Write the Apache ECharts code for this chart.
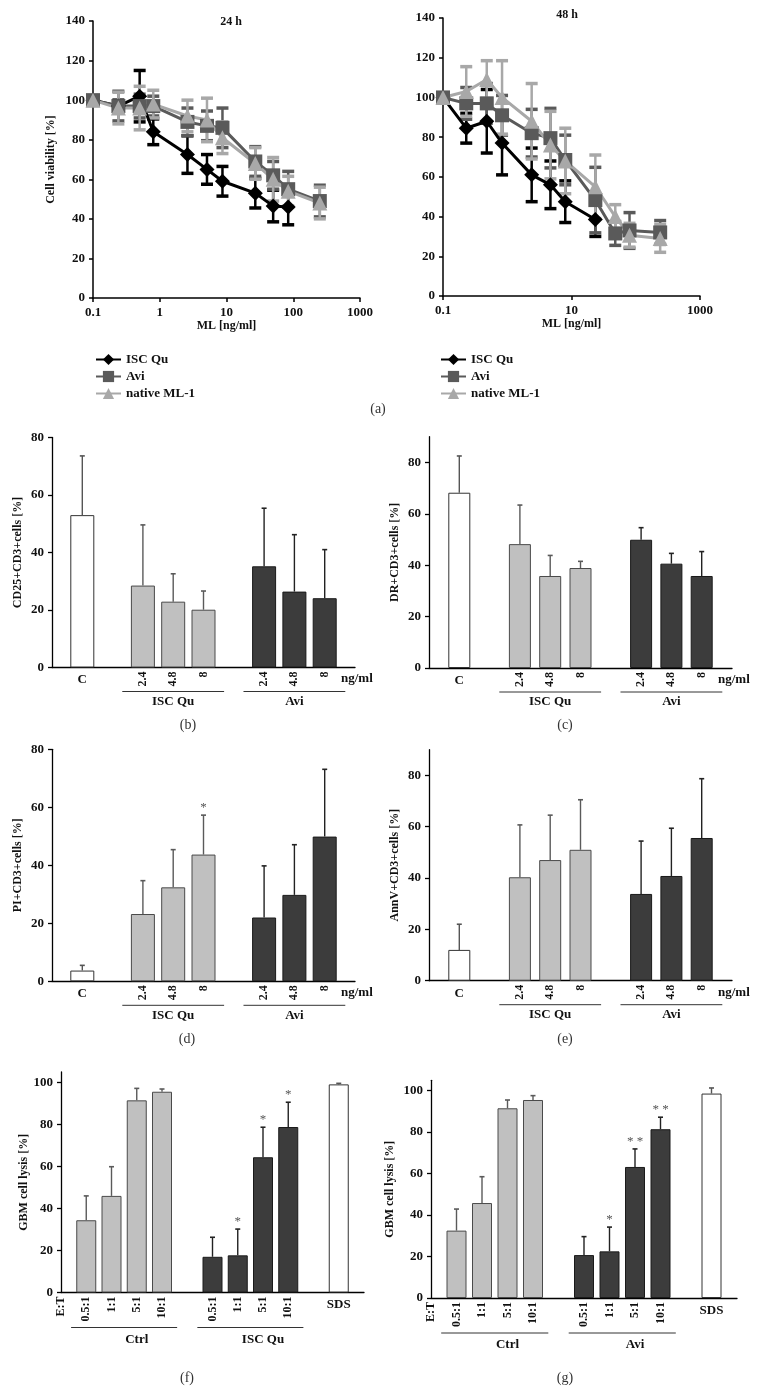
<!DOCTYPE html>
<html><head><meta charset="utf-8">
<script src="https://cdn.jsdelivr.net/npm/echarts@6/dist/echarts.min.js"></script>
<style>html,body{margin:0;padding:0;background:#fff}#c{width:757px;height:1393px}</style>
</head><body><div id="c"></div>
<script>
// ================= DATA =================
const lineNames = ['ISC Qu', 'Avi', 'native ML-1'];
// panel (a) 24 h
const x24Isc = [0.1, 0.24, 0.5, 0.8, 2.6, 5.1, 8.7, 27, 50, 84];
const v24Isc = [100, 97, 102, 84, 72.5, 65, 59, 53, 46.5, 46];
const e24Isc = [0, 3, 13, 6.5, 9.5, 7.5, 7.5, 7.5, 8, 9];
const x24Avi = [0.1, 0.24, 0.5, 0.8, 2.6, 5.1, 8.7, 27, 50, 84, 250];
const v24Avi = [100, 97, 97, 97, 89, 87, 86, 69, 62, 55, 49];
const e24Avi = [0, 7.5, 6, 5, 7, 7.5, 10, 7.5, 7, 9, 8];
const x24Nat = [0.1, 0.24, 0.5, 0.8, 2.6, 5.1, 8.7, 27, 50, 84, 250];
const v24Nat = [100, 96, 96, 98, 92, 90, 81, 68, 60, 54, 48];
const e24Nat = [0, 8, 11, 7, 8, 11, 8, 8, 11, 7.5, 8];
// panel (a) 48 h
const x48Isc = [0.1, 0.23, 0.48, 0.83, 2.4, 4.7, 8, 23.5];
const v48Isc = [100, 84.5, 88, 77, 61, 56, 47.5, 38.5];
const e48Isc = [0, 7.5, 16, 16, 13.5, 12, 10.5, 8.5];
const x48Avi = [0.1, 0.23, 0.48, 0.83, 2.4, 4.7, 8, 23.5, 48, 80, 240];
const v48Avi = [100, 97, 97, 91, 82, 79.5, 68.5, 48.3, 31.5, 33, 32];
const e48Avi = [0, 8, 10, 10, 12, 15, 12.5, 16.5, 6, 9, 6];
const x48Nat = [0.1, 0.23, 0.48, 0.83, 2.4, 4.7, 8, 23.5, 48, 80, 240];
const v48Nat = [100, 103, 109, 100, 88, 76, 68, 55, 40, 30.6, 29];
const e48Nat = [0, 12.5, 9.5, 18.5, 19, 17, 16.5, 16, 6, 6, 7];
const ticks48 = [0.1, 10, 1000];

// panels (b)-(e): slots on the category axis
const bcdeLabels = ['', 'C', '', '2.4', '4.8', '8', '', '2.4', '4.8', '8', ''];
const bcdeKinds  = [null, 'white', null, 'light', 'light', 'light', null, 'dark', 'dark', 'dark', null];
const bcdeGroups = [{name: 'ISC Qu', from: 3, to: 5}, {name: 'Avi', from: 7, to: 9}];
const bMean = [53, 28.5, 22.9, 20.1, 35.2, 26.4, 24.1];
const bSd   = [20.6, 21.1, 9.7, 6.5, 20.2, 19.8, 16.9];
const cMean = [68.2, 48.2, 35.8, 38.9, 49.9, 40.6, 35.8];
const cSd   = [14.3, 15.2, 8.0, 2.6, 4.7, 4.0, 9.5];
const dMean = [3.7, 23.2, 32.4, 43.7, 22, 29.8, 49.9];
const dSd   = [1.8, 11.5, 13, 13.6, 17.8, 17.3, 23.2];
const dStars = ['', '', '', '*', '', '', ''];
const eMean = [12, 40.3, 47, 51, 33.8, 40.8, 55.6];
const eSd   = [10, 20.4, 17.5, 19.5, 20.6, 18.6, 23.1];
// panels (f),(g)
const fgLabels = ['E:T', '0.5:1', '1:1', '5:1', '10:1', '', '0.5:1', '1:1', '5:1', '10:1', '', 'SDS', ''];
const fgKinds  = [null, 'light', 'light', 'light', 'light', null, 'dark', 'dark', 'dark', 'dark', null, 'white', null];
const fMean = [34.4, 46, 91.5, 95.6, 17, 17.7, 64.4, 78.8, 99.1];
const fSd   = [11.6, 13.9, 5.7, 1.3, 9.3, 12.5, 14.3, 11.8, 0.5];
const fStars = ['', '', '', '', '', '*', '*', '*', ''];
const fGroups = [{name: 'Ctrl', from: 1, to: 4}, {name: 'ISC Qu', from: 6, to: 9}];
const gMean = [32.5, 45.8, 91.5, 95.5, 20.7, 22.5, 63.2, 81.4, 98.6];
const gSd   = [10.4, 12.7, 4, 2.1, 8.9, 11.7, 8.7, 5.8, 2.7];
const gStars = ['', '', '', '', '', '*', '* *', '* *', ''];
const gGroups = [{name: 'Ctrl', from: 1, to: 4}, {name: 'Avi', from: 6, to: 9}];
const flatLabels = ['C', 'SDS'];

// ================= STYLE / BUILD =================
const FONT = "'Liberation Serif','DejaVu Serif',serif";
function lab(size, weight) { return {fontFamily: FONT, fontSize: size, fontWeight: weight || 'bold', color: '#111'}; }
const option = {animation: false, legend: [], grid: [], xAxis: [], yAxis: [], series: [], graphic: []};
const barPanels = [];

function lineErr(xi, yi, xs, vs, es, color) {
  return {
    type: 'custom', xAxisIndex: xi, yAxisIndex: yi, z: 2,
    data: xs.map((x, i) => [x, vs[i], es[i]]),
    encode: {x: 0, y: 1},
    renderItem: (params, api) => {
      const x = api.value(0), y = api.value(1), s = api.value(2);
      if (!s) return null;
      const t = api.coord([x, y + s]), b = api.coord([x, y - s]);
      const w = 6;
      return {type: 'group', children: [
        {type: 'line', shape: {x1: t[0], y1: t[1], x2: b[0], y2: b[1]}, style: {stroke: color, lineWidth: 2.5}},
        {type: 'line', shape: {x1: t[0] - w, y1: t[1], x2: t[0] + w, y2: t[1]}, style: {stroke: color, lineWidth: 3.5}},
        {type: 'line', shape: {x1: b[0] - w, y1: b[1], x2: b[0] + w, y2: b[1]}, style: {stroke: color, lineWidth: 3.5}}
      ]};
    }
  };
}

function linePanel(cfg) {
  const gi = option.grid.length;
  option.grid.push({left: cfg.left, top: cfg.top, width: cfg.width, height: cfg.height});
  const xa = {gridIndex: gi, type: 'log', logBase: 10, min: 0.1, max: 1000,
    name: 'ML [ng/ml]', nameLocation: 'middle', nameGap: 14, nameTextStyle: lab(12),
    axisLine: {lineStyle: {color: '#000', width: 1.5}},
    axisTick: {length: 4, lineStyle: {color: '#000', width: 1.5}},
    axisLabel: Object.assign(lab(13), {formatter: v => String(+Number(v).toPrecision(3))}),
    splitLine: {show: false}, minorTick: {show: false}};
  if (cfg.ticks) { xa.axisTick.customValues = cfg.ticks; xa.axisLabel.customValues = cfg.ticks; }
  option.xAxis.push(xa);
  option.yAxis.push({gridIndex: gi, type: 'value', min: 0, max: 140, interval: 20,
    name: cfg.yName || '', nameLocation: 'middle', nameGap: 36, nameTextStyle: lab(12),
    axisLine: {show: true, lineStyle: {color: '#000', width: 1.5}},
    axisTick: {show: true, length: 4, lineStyle: {color: '#000', width: 1.5}},
    axisLabel: lab(13), splitLine: {show: false}});
  const xi = option.xAxis.length - 1, yi = option.yAxis.length - 1;
  cfg.sets.forEach(s => {
    option.series.push(lineErr(xi, yi, s.x, s.v, s.e, s.color));
    option.series.push({type: 'line', name: s.name, xAxisIndex: xi, yAxisIndex: yi, z: 3,
      data: s.x.map((x, i) => [x, s.v[i]]), symbol: s.symbol, symbolSize: s.size,
      lineStyle: {color: s.color, width: 3}, itemStyle: {color: s.color}});
  });
  option.legend.push({left: cfg.legendLeft, top: 353, orient: 'vertical', padding: 0, itemGap: 4,
    itemWidth: 25, itemHeight: 14, textStyle: lab(13), data: lineNames});
}

const fills = {white: '#ffffff', light: '#c0c0c0', dark: '#3c3c3c'};
const borders = {white: '#333', light: '#4a4a4a', dark: '#1a1a1a'};
const errCol = {white: '#555', light: '#5a5a5a', dark: '#222'};

function barPanel(p) {
  const gi = option.grid.length;
  option.grid.push({left: p.left, top: p.top, width: p.width, height: p.height});
  const keys = p.labels.map((l, i) => 's' + i);
  const xi = option.xAxis.length;
  option.xAxis.push({gridIndex: gi, type: 'category', data: keys, boundaryGap: false, position: 'bottom',
    axisLine: {lineStyle: {color: '#000', width: 1.3}}, axisTick: {show: false},
    axisLabel: Object.assign(lab(12), {interval: 0, rotate: 90, margin: 4,
      formatter: (v, i) => flatLabels.includes(p.labels[i]) ? '' : p.labels[i]}),
    name: p.unit || '', nameLocation: 'end', nameGap: -14,
    nameTextStyle: Object.assign(lab(13), {verticalAlign: 'top', padding: [5, 0, 0, 0]})});
  option.xAxis.push({gridIndex: gi, type: 'category', data: keys, boundaryGap: false, position: 'bottom',
    axisLine: {show: false}, axisTick: {show: false},
    axisLabel: Object.assign(lab(13), {interval: 0, margin: 6,
      formatter: (v, i) => flatLabels.includes(p.labels[i]) ? p.labels[i] : ''})});
  const yi = option.yAxis.length;
  option.yAxis.push({gridIndex: gi, type: 'value', min: 0, max: p.max, interval: 20,
    name: p.yName, nameLocation: 'middle', nameGap: p.nameGap, nameTextStyle: lab(12),
    axisLine: {show: true, lineStyle: {color: '#000', width: 1.3}},
    axisTick: {show: true, length: 4, lineStyle: {color: '#000', width: 1.3}, customValues: p.ticks},
    axisLabel: Object.assign(lab(13), {customValues: p.ticks}), splitLine: {show: false}});
  const slots = p.kinds.map((k, i) => k ? i : -1).filter(i => i >= 0);
  const data = p.labels.map(() => '-');
  slots.forEach((si, j) => {
    const k = p.kinds[si];
    data[si] = {value: p.mean[j], itemStyle: {color: fills[k], borderColor: borders[k], borderWidth: 1}};
  });
  option.series.push({type: 'bar', xAxisIndex: xi, yAxisIndex: yi, data: data, barWidth: p.barWidth, z: 2});
  const stars = p.stars || [];
  option.series.push({type: 'custom', xAxisIndex: xi, yAxisIndex: yi, z: 3,
    data: slots.map((si, j) => [si, p.mean[j], p.sd[j], j]), encode: {x: 0, y: 1},
    renderItem: (params, api) => {
      const si = api.value(0), m = api.value(1), s = api.value(2), j = api.value(3);
      const a = api.coord([si, m]), b = api.coord([si, m + s]);
      const col = errCol[p.kinds[si]];
      const ch = [
        {type: 'line', shape: {x1: a[0], y1: a[1], x2: b[0], y2: b[1]}, style: {stroke: col, lineWidth: 1.4}},
        {type: 'line', shape: {x1: b[0] - 2.5, y1: b[1], x2: b[0] + 2.5, y2: b[1]}, style: {stroke: col, lineWidth: 1.6}}
      ];
      if (stars[j]) ch.push({type: 'text', x: b[0], y: b[1] - 1, style: {text: stars[j], fill: '#555',
        font: '13px ' + FONT, align: 'center', verticalAlign: 'bottom', textAlign: 'center', textVerticalAlign: 'bottom'}});
      return {type: 'group', children: ch};
    }});
  barPanels.push({xi: xi, yi: yi, groups: p.groups, lineOff: p.lineOff, textOff: p.textOff, ext: p.ext, step: p.width / (p.labels.length - 1)});
}

// ---- panel (a)
linePanel({left: 93, top: 21, width: 267, height: 277, yName: 'Cell viability [%]', legendLeft: 95,
  sets: [
    {name: 'ISC Qu', x: x24Isc, v: v24Isc, e: e24Isc, color: '#000000', symbol: 'diamond', size: 15},
    {name: 'Avi', x: x24Avi, v: v24Avi, e: e24Avi, color: '#5a5a5a', symbol: 'rect', size: 14},
    {name: 'native ML-1', x: x24Nat, v: v24Nat, e: e24Nat, color: '#a8a8a8', symbol: 'triangle', size: 15}]});
linePanel({left: 443, top: 18, width: 257, height: 278, ticks: ticks48, legendLeft: 440,
  sets: [
    {name: 'ISC Qu', x: x48Isc, v: v48Isc, e: e48Isc, color: '#000000', symbol: 'diamond', size: 15},
    {name: 'Avi', x: x48Avi, v: v48Avi, e: e48Avi, color: '#5a5a5a', symbol: 'rect', size: 14},
    {name: 'native ML-1', x: x48Nat, v: v48Nat, e: e48Nat, color: '#a8a8a8', symbol: 'triangle', size: 15}]});

const t80 = [0, 20, 40, 60, 80], t100 = [0, 20, 40, 60, 80, 100];
barPanel({left: 52, top: 437.5, width: 303, height: 230, max: 80, ticks: t80, yName: 'CD25+CD3+cells [%]', nameGap: 28,
  labels: bcdeLabels, kinds: bcdeKinds, mean: bMean, sd: bSd, barWidth: 24, unit: 'ng/ml', groups: bcdeGroups, lineOff: 24, textOff: 34, ext: 0.68});
barPanel({left: 429, top: 436.7, width: 303, height: 231.3, max: 90, ticks: t80, yName: 'DR+CD3+cells [%]', nameGap: 28,
  labels: bcdeLabels, kinds: bcdeKinds, mean: cMean, sd: cSd, barWidth: 22, unit: 'ng/ml', groups: bcdeGroups, lineOff: 24, textOff: 34, ext: 0.68});
barPanel({left: 52, top: 749.3, width: 303, height: 232, max: 80, ticks: t80, yName: 'PI+CD3+cells [%]', nameGap: 28,
  labels: bcdeLabels, kinds: bcdeKinds, mean: dMean, sd: dSd, stars: dStars, barWidth: 24, unit: 'ng/ml', groups: bcdeGroups, lineOff: 24, textOff: 34, ext: 0.68});
barPanel({left: 429, top: 749.7, width: 303, height: 231, max: 90, ticks: t80, yName: 'AnnV+CD3+cells [%]', nameGap: 28,
  labels: bcdeLabels, kinds: bcdeKinds, mean: eMean, sd: eSd, barWidth: 22, unit: 'ng/ml', groups: bcdeGroups, lineOff: 24, textOff: 34, ext: 0.68});
barPanel({left: 61, top: 1072, width: 303, height: 220.5, max: 105, ticks: t100, yName: 'GBM cell lysis [%]', nameGap: 31,
  labels: fgLabels, kinds: fgKinds, mean: fMean, sd: fSd, stars: fStars, barWidth: 20, groups: fGroups, lineOff: 35, textOff: 47, ext: 0.6});
barPanel({left: 431, top: 1080.3, width: 306, height: 217.7, max: 105, ticks: t100, yName: 'GBM cell lysis [%]', nameGap: 35,
  labels: fgLabels, kinds: fgKinds, mean: gMean, sd: gSd, stars: gStars, barWidth: 20, groups: gGroups, lineOff: 35, textOff: 47, ext: 0.6});

const chart = echarts.init(document.getElementById('c'), null, {renderer: 'canvas'});
chart.setOption(option);

// ---- annotations computed from axes
function txt(text, x, y, size, weight, fill) {
  return {type: 'text', x: x, y: y, silent: true, style: {text: text, fill: fill || '#111',
    font: (weight || 'bold') + ' ' + size + 'px ' + FONT, align: 'center', verticalAlign: 'middle',
    textAlign: 'center', textVerticalAlign: 'middle'}};
}
const gfx = [];
barPanels.forEach(bp => {
  const y0 = chart.convertToPixel({yAxisIndex: bp.yi}, 0);
  bp.groups.forEach(g => {
    const x1 = chart.convertToPixel({xAxisIndex: bp.xi}, 's' + g.from) - bp.ext * bp.step;
    const x2 = chart.convertToPixel({xAxisIndex: bp.xi}, 's' + g.to) + bp.ext * bp.step;
    const xm = chart.convertToPixel({xAxisIndex: bp.xi}, 's' + Math.round((g.from + g.to) / 2));
    gfx.push({type: 'line', silent: true, shape: {x1: x1, y1: y0 + bp.lineOff, x2: x2, y2: y0 + bp.lineOff}, style: {stroke: '#333', lineWidth: 1}});
    gfx.push(txt(g.name, xm, y0 + bp.textOff, 13));
  });
});
gfx.push(txt('24 h', 231, 22, 12));
gfx.push(txt('48 h', 567, 15, 12));
[['(a)', 378, 409], ['(b)', 188, 725], ['(c)', 565, 725], ['(d)', 187, 1039], ['(e)', 565, 1039], ['(f)', 187, 1378], ['(g)', 565, 1378]]
  .forEach(s => gfx.push(txt(s[0], s[1], s[2], 14, 'normal', '#333')));
chart.setOption({graphic: gfx});
</script></body></html>
